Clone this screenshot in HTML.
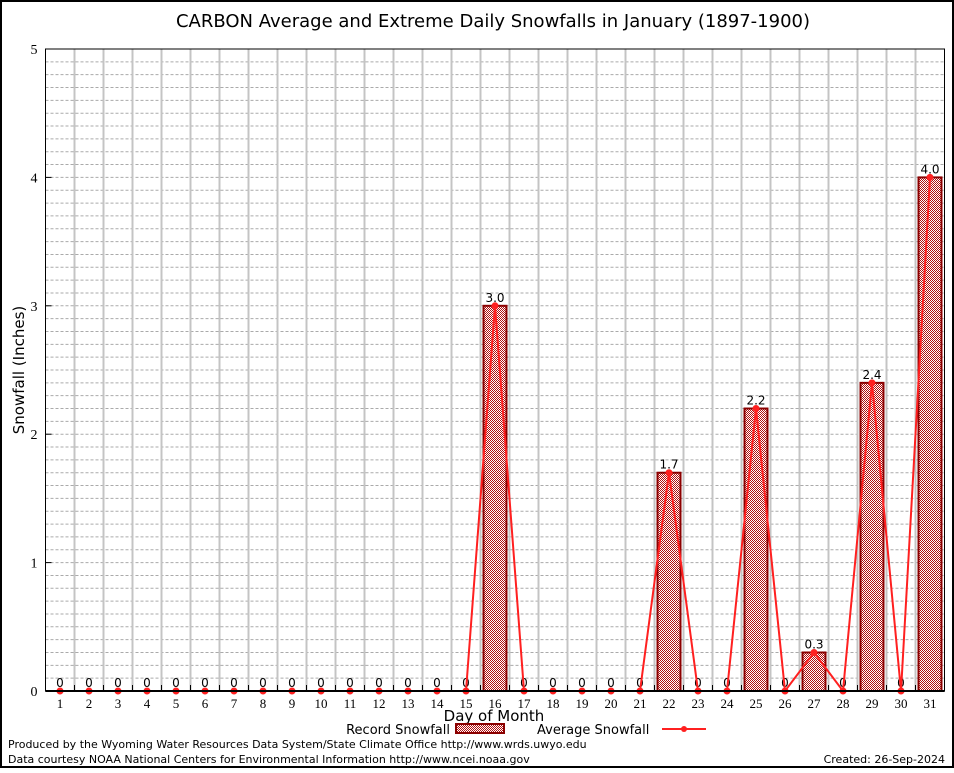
<!DOCTYPE html>
<html><head><meta charset="utf-8"><style>
body{margin:0;background:#fff;}
svg text{font-family:"DejaVu Sans","Liberation Sans",sans-serif;}
svg text.serif{font-family:"Liberation Serif",serif;}
</style></head><body>
<svg id="c" width="954" height="768" xmlns="http://www.w3.org/2000/svg">
<defs>
<pattern id="hatch" width="2" height="2" patternUnits="userSpaceOnUse">
<rect width="2" height="2" fill="#fff"/>
<rect width="1" height="1" fill="#b01010"/><rect x="1" y="1" width="1" height="1" fill="#b01010"/>
</pattern>
</defs>
<rect x="1" y="1" width="952" height="766" fill="#fff" stroke="#000" stroke-width="2"/>
<text x="493" y="27" font-size="18" text-anchor="middle">CARBON Average and Extreme Daily Snowfalls in January (1897-1900)</text>
<g id="grid"></g>
<g id="bars"></g>
<g id="line"></g>
<g id="axes"></g>
<text x="24" y="370" font-size="15" text-anchor="middle" transform="rotate(-90 24 370)">Snowfall (Inches)</text>
<text x="494" y="721" font-size="15" text-anchor="middle">Day of Month</text>
<g>
<text x="450" y="734" font-size="13" text-anchor="end">Record Snowfall</text>
<rect x="456" y="724" width="48" height="9" fill="url(#hatch)" stroke="#8b0000" stroke-width="2"/>
<text x="537" y="734" font-size="13">Average Snowfall</text>
<line x1="662" y1="729" x2="706" y2="729" stroke="#ff2020" stroke-width="2"/>
<circle cx="684" cy="729" r="3" fill="#ff2020"/>
</g>
<text x="8" y="748" font-size="11">Produced by the Wyoming Water Resources Data System/State Climate Office http://www.wrds.uwyo.edu</text>
<text x="8" y="763" font-size="11">Data courtesy NOAA National Centers for Environmental Information http://www.ncei.noaa.gov</text>
<text x="945" y="763" font-size="11" text-anchor="end">Created: 26-Sep-2024</text>
</svg>
<script>
const days=[1,2,3,4,5,6,7,8,9,10,11,12,13,14,15,16,17,18,19,20,21,22,23,24,25,26,27,28,29,30,31];
const recordSnow=[0,0,0,0,0,0,0,0,0,0,0,0,0,0,0,3.0,0,0,0,0,0,1.7,0,0,2.2,0,0.3,0,2.4,0,4.0];
const avgSnow=[0,0,0,0,0,0,0,0,0,0,0,0,0,0,0,3.0,0,0,0,0,0,1.7,0,0,2.2,0,0.3,0,2.4,0,4.0];
const yTicks=[0,1,2,3,4,5];
const NS="http://www.w3.org/2000/svg";
const L=45.5,R=944.5,T=49,B=691,yMax=5;
const step=(R-L)/days.length;
const x=d=>L+step*(d-0.5);
const y=v=>B-(v/yMax)*(B-T);
function mk(tag,attrs,parent){const e=document.createElementNS(NS,tag);for(const k in attrs)e.setAttribute(k,attrs[k]);parent.appendChild(e);return e;}
const grid=document.getElementById('grid'),bars=document.getElementById('bars'),line=document.getElementById('line'),axes=document.getElementById('axes');
for(let v=0.1;v<yMax+0.001;v+=0.1){const e=mk('line',{x1:L,x2:R,y1:y(v),y2:y(v),stroke:'#aaa','stroke-width':1,'stroke-dasharray':'3,2'},grid);

}
for(let i=1;i<days.length;i++){const e=mk('line',{x1:L+step*i,x2:L+step*i,y1:T,y2:B,stroke:'#c4c4c4','stroke-width':2},grid);

}
days.forEach((d,i)=>{const v=recordSnow[i];if(v>0){const w=23;const r=mk('rect',{x:x(d)-w/2,y:y(v),width:w,height:B-y(v),fill:'url(#hatch)',stroke:'#8b0000','stroke-width':2},bars);

}
const t=mk('text',{x:x(d),y:y(v)-4,'font-size':12,'text-anchor':'middle'},bars);t.textContent=v>0?v.toFixed(1):'0';

});
const pl=mk('polyline',{points:days.map((d,i)=>x(d)+','+y(avgSnow[i])).join(' '),fill:'none',stroke:'#ff2020','stroke-width':2},line);


days.forEach((d,i)=>{const c=mk('circle',{cx:x(d),cy:y(avgSnow[i]),r:3.5,fill:'#ff2020'},line);

});
const fr=mk('rect',{x:L,y:T,width:R-L,height:B-T,fill:'none',stroke:'#000','stroke-width':1},axes);


const xa=mk('line',{x1:L,x2:R,y1:B,y2:B,stroke:'#000','stroke-width':2},axes);


yTicks.forEach(v=>{const t=mk('text',{x:L-8,y:y(v)+5,'font-size':14,'text-anchor':'end','class':'serif'},axes);t.textContent=v;


const tk=mk('line',{x1:L,x2:L+6,y1:y(v),y2:y(v),stroke:'#000'},axes);

});
days.forEach((d,i)=>{const t=mk('text',{x:x(d),y:B+17,'font-size':13,'text-anchor':'middle','class':'serif'},axes);t.textContent=d;


if(i>0){const tk=mk('line',{x1:L+step*i,x2:L+step*i,y1:B-6,y2:B,stroke:'#000'},axes);

}});
</script>
</body></html>
